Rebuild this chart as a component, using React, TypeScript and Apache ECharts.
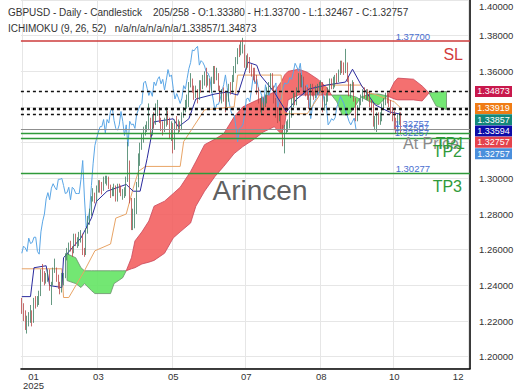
import React, { useEffect, useRef } from 'react';
import * as echarts from 'echarts';

const FONT = "'Liberation Sans', Arial, sans-serif";
const SLOTS = 258;

const opens = [
  1.2320, 1.2290, 1.2250, 1.2185, 1.2200, 1.2215, 1.2240, 1.2200, 1.2310, 1.2300,
  1.2310, 1.2345, 1.2480, 1.2455, 1.2440, 1.2450, 1.2450, 1.2390, 1.2410, 1.2480,
  1.2495, 1.2430, 1.2400, 1.2370, 1.2450, 1.2450, 1.2565, 1.2580, 1.2620, 1.2610,
  1.2590, 1.2665, 1.2635, 1.2640, 1.2670, 1.2670, 1.2590, 1.2575, 1.2700, 1.2760,
  1.2800, 1.2885, 1.2920, 1.2880, 1.2945, 1.2970, 1.2950, 1.2935, 1.2995, 1.2995,
  1.3000, 1.2960, 1.2915, 1.2920, 1.2950, 1.2880, 1.2950, 1.2940, 1.2915, 1.2915,
  1.2915, 1.2995, 1.3100, 1.2890, 1.2725, 1.2765, 1.2820, 1.2960, 1.3085, 1.3185,
  1.3225, 1.3260, 1.3290, 1.3290, 1.3330, 1.3255, 1.3330, 1.3310, 1.3380, 1.3395,
  1.3325, 1.3280, 1.3270, 1.3300, 1.3375, 1.3320, 1.3240, 1.3300, 1.3180, 1.3320,
  1.3300, 1.3305, 1.3280, 1.3360, 1.3385, 1.3410, 1.3420, 1.3535, 1.3545, 1.3505,
  1.3465, 1.3490, 1.3460, 1.3540, 1.3520, 1.3555, 1.3570, 1.3530, 1.3555, 1.3495,
  1.3550, 1.3610, 1.3570, 1.3580, 1.3505, 1.3445, 1.3475, 1.3450, 1.3420, 1.3450,
  1.3520, 1.3500, 1.3560, 1.3615, 1.3650, 1.3720, 1.3715, 1.3730, 1.3740, 1.3635,
  1.3660, 1.3650, 1.3630, 1.3595, 1.3590, 1.3565, 1.3495, 1.3440, 1.3380, 1.3415,
  1.3415, 1.3445, 1.3490, 1.3525, 1.3580, 1.3510, 1.3435, 1.3380, 1.3355, 1.3355,
  1.3290, 1.3205, 1.3280, 1.3285, 1.3300, 1.3355, 1.3445, 1.3450, 1.3430, 1.3500,
  1.3575, 1.3530, 1.3555, 1.3500, 1.3490, 1.3460, 1.3410, 1.3525, 1.3475, 1.3465,
  1.3500, 1.3505, 1.3510, 1.3535, 1.3395, 1.3440, 1.3445, 1.3505, 1.3535, 1.3530,
  1.3535, 1.3565, 1.3555, 1.3595, 1.3645, 1.3625, 1.3600, 1.3645, 1.3555, 1.3470,
  1.3510, 1.3525, 1.3445, 1.3335, 1.3400, 1.3430, 1.3445, 1.3490, 1.3465, 1.3480,
  1.3475, 1.3420, 1.3405, 1.3300, 1.3315, 1.3335, 1.3325, 1.3340, 1.3400, 1.3425,
  1.3460, 1.3440, 1.3420, 1.3380, 1.3350, 1.3320, 1.3300, 1.3320, 1.3338,
];

const closes = [
  1.2290, 1.2250, 1.2185, 1.2200, 1.2215, 1.2240, 1.2200, 1.2310, 1.2300, 1.2310,
  1.2345, 1.2480, 1.2455, 1.2440, 1.2450, 1.2450, 1.2390, 1.2410, 1.2480, 1.2495,
  1.2430, 1.2400, 1.2370, 1.2450, 1.2450, 1.2565, 1.2580, 1.2620, 1.2610, 1.2590,
  1.2665, 1.2635, 1.2640, 1.2670, 1.2670, 1.2590, 1.2575, 1.2700, 1.2760, 1.2800,
  1.2885, 1.2920, 1.2880, 1.2945, 1.2970, 1.2950, 1.2935, 1.2995, 1.2995, 1.3000,
  1.2960, 1.2915, 1.2920, 1.2950, 1.2880, 1.2950, 1.2940, 1.2915, 1.2915, 1.2915,
  1.2995, 1.3100, 1.2890, 1.2725, 1.2765, 1.2820, 1.2960, 1.3085, 1.3185, 1.3225,
  1.3260, 1.3290, 1.3290, 1.3330, 1.3255, 1.3330, 1.3310, 1.3380, 1.3395, 1.3325,
  1.3280, 1.3270, 1.3300, 1.3375, 1.3320, 1.3240, 1.3300, 1.3180, 1.3320, 1.3300,
  1.3305, 1.3280, 1.3360, 1.3385, 1.3410, 1.3420, 1.3535, 1.3545, 1.3505, 1.3465,
  1.3490, 1.3460, 1.3540, 1.3520, 1.3555, 1.3570, 1.3530, 1.3555, 1.3495, 1.3550,
  1.3610, 1.3570, 1.3580, 1.3505, 1.3445, 1.3475, 1.3450, 1.3420, 1.3450, 1.3520,
  1.3500, 1.3560, 1.3615, 1.3650, 1.3720, 1.3715, 1.3730, 1.3740, 1.3635, 1.3660,
  1.3650, 1.3630, 1.3595, 1.3590, 1.3565, 1.3495, 1.3440, 1.3380, 1.3415, 1.3415,
  1.3445, 1.3490, 1.3525, 1.3580, 1.3510, 1.3435, 1.3380, 1.3355, 1.3355, 1.3290,
  1.3205, 1.3280, 1.3285, 1.3300, 1.3355, 1.3445, 1.3450, 1.3430, 1.3500, 1.3575,
  1.3530, 1.3555, 1.3500, 1.3490, 1.3460, 1.3410, 1.3525, 1.3475, 1.3465, 1.3500,
  1.3505, 1.3510, 1.3535, 1.3395, 1.3440, 1.3445, 1.3505, 1.3535, 1.3530, 1.3535,
  1.3565, 1.3555, 1.3595, 1.3645, 1.3625, 1.3600, 1.3645, 1.3555, 1.3470, 1.3510,
  1.3525, 1.3445, 1.3335, 1.3400, 1.3430, 1.3445, 1.3490, 1.3465, 1.3480, 1.3475,
  1.3420, 1.3405, 1.3300, 1.3315, 1.3335, 1.3325, 1.3340, 1.3400, 1.3425, 1.3460,
  1.3440, 1.3420, 1.3380, 1.3350, 1.3320, 1.3300, 1.3320, 1.3338, 1.32757,
];

const highs = [
  1.2330, 1.2300, 1.2260, 1.2230, 1.2250, 1.2290, 1.2260, 1.2330, 1.2340, 1.2340,
  1.2370, 1.2490, 1.2520, 1.2480, 1.2470, 1.2490, 1.2490, 1.2420, 1.2500, 1.2550,
  1.2500, 1.2460, 1.2420, 1.2470, 1.2470, 1.2580, 1.2610, 1.2640, 1.2650, 1.2620,
  1.2690, 1.2690, 1.2670, 1.2700, 1.2710, 1.2690, 1.2610, 1.2720, 1.2790, 1.2830,
  1.2900, 1.2945, 1.2920, 1.2960, 1.2990, 1.2990, 1.2980, 1.3010, 1.3015, 1.3015,
  1.3010, 1.2965, 1.2950, 1.2970, 1.2960, 1.2970, 1.2970, 1.2960, 1.2940, 1.2950,
  1.3010, 1.3205, 1.3100, 1.2890, 1.2830, 1.2890, 1.2980, 1.3140, 1.3200, 1.3250,
  1.3290, 1.3300, 1.3320, 1.3420, 1.3340, 1.3360, 1.3370, 1.3420, 1.3440, 1.3400,
  1.3340, 1.3320, 1.3340, 1.3400, 1.3380, 1.3340, 1.3320, 1.3310, 1.3330, 1.3350,
  1.3330, 1.3320, 1.3370, 1.3400, 1.3440, 1.3470, 1.3540, 1.3590, 1.3560, 1.3520,
  1.3520, 1.3500, 1.3550, 1.3550, 1.3580, 1.3600, 1.3620, 1.3580, 1.3560, 1.3570,
  1.3630, 1.3630, 1.3620, 1.3590, 1.3520, 1.3500, 1.3510, 1.3480, 1.3480, 1.3530,
  1.3540, 1.3580, 1.3630, 1.3680, 1.3730, 1.3750, 1.3770, 1.3788, 1.3750, 1.3690,
  1.3700, 1.3680, 1.3640, 1.3620, 1.3620, 1.3580, 1.3510, 1.3450, 1.3460, 1.3450,
  1.3470, 1.3510, 1.3540, 1.3590, 1.3590, 1.3520, 1.3450, 1.3400, 1.3390, 1.3380,
  1.3300, 1.3300, 1.3320, 1.3330, 1.3380, 1.3450, 1.3480, 1.3480, 1.3510, 1.3590,
  1.3590, 1.3580, 1.3570, 1.3520, 1.3510, 1.3470, 1.3530, 1.3530, 1.3490, 1.3520,
  1.3530, 1.3540, 1.3550, 1.3540, 1.3460, 1.3480, 1.3510, 1.3560, 1.3560, 1.3570,
  1.3580, 1.3590, 1.3610, 1.3660, 1.3660, 1.3650, 1.3726, 1.3650, 1.3570, 1.3530,
  1.3550, 1.3540, 1.3450, 1.3410, 1.3450, 1.3470, 1.3500, 1.3510, 1.3500, 1.3500,
  1.3490, 1.3440, 1.3420, 1.3350, 1.3370, 1.3370, 1.3370, 1.3420, 1.3450, 1.3480,
  1.3490, 1.3470, 1.3440, 1.3400, 1.3380, 1.3340, 1.3360, 1.3370, 1.3370,
];

const lows = [
  1.2240, 1.2200, 1.2150, 1.2130, 1.2170, 1.2190, 1.2170, 1.2190, 1.2270, 1.2280,
  1.2290, 1.2340, 1.2420, 1.2400, 1.2410, 1.2420, 1.2370, 1.2290, 1.2400, 1.2470,
  1.2420, 1.2380, 1.2350, 1.2360, 1.2400, 1.2440, 1.2540, 1.2570, 1.2590, 1.2560,
  1.2580, 1.2620, 1.2610, 1.2620, 1.2640, 1.2570, 1.2560, 1.2570, 1.2690, 1.2740,
  1.2790, 1.2870, 1.2860, 1.2870, 1.2920, 1.2920, 1.2910, 1.2930, 1.2970, 1.2960,
  1.2940, 1.2890, 1.2900, 1.2900, 1.2870, 1.2870, 1.2920, 1.2900, 1.2880, 1.2890,
  1.2900, 1.2980, 1.2860, 1.2710, 1.2710, 1.2720, 1.2800, 1.2950, 1.3070, 1.3160,
  1.3200, 1.3240, 1.3260, 1.3270, 1.3230, 1.3240, 1.3280, 1.3300, 1.3350, 1.3310,
  1.3265, 1.3240, 1.3260, 1.3290, 1.3300, 1.3220, 1.3210, 1.3140, 1.3160, 1.3270,
  1.3250, 1.3260, 1.3270, 1.3340, 1.3370, 1.3390, 1.3400, 1.3510, 1.3480, 1.3440,
  1.3450, 1.3420, 1.3440, 1.3480, 1.3500, 1.3520, 1.3510, 1.3520, 1.3480, 1.3480,
  1.3530, 1.3530, 1.3550, 1.3490, 1.3430, 1.3420, 1.3430, 1.3370, 1.3400, 1.3430,
  1.3470, 1.3480, 1.3540, 1.3590, 1.3640, 1.3680, 1.3690, 1.3700, 1.3620, 1.3610,
  1.3620, 1.3590, 1.3570, 1.3550, 1.3540, 1.3470, 1.3420, 1.3370, 1.3360, 1.3380,
  1.3400, 1.3420, 1.3470, 1.3500, 1.3490, 1.3420, 1.3340, 1.3310, 1.3320, 1.3270,
  1.3180, 1.3140, 1.3250, 1.3260, 1.3280, 1.3340, 1.3400, 1.3410, 1.3410, 1.3480,
  1.3510, 1.3510, 1.3480, 1.3460, 1.3440, 1.3390, 1.3400, 1.3460, 1.3440, 1.3450,
  1.3470, 1.3480, 1.3490, 1.3370, 1.3380, 1.3410, 1.3430, 1.3490, 1.3500, 1.3500,
  1.3510, 1.3530, 1.3540, 1.3580, 1.3590, 1.3580, 1.3590, 1.3540, 1.3460, 1.3450,
  1.3490, 1.3430, 1.3320, 1.3320, 1.3380, 1.3410, 1.3430, 1.3450, 1.3440, 1.3440,
  1.3400, 1.3370, 1.3290, 1.3270, 1.3260, 1.3300, 1.3300, 1.3320, 1.3390, 1.3410,
  1.3420, 1.3400, 1.3360, 1.3320, 1.3270, 1.3250, 1.3280, 1.3300, 1.32467,
];

// Ichimoku lines as [slot, price] vertices
const tenkan = [
  [0, 1.2337], [5, 1.2337], [7, 1.2499], [14, 1.2510], [16, 1.2399], [23, 1.2388],
  [24, 1.2555], [34, 1.2666], [40, 1.2777], [43, 1.2872], [49, 1.2928], [60, 1.2966],
  [64, 1.2928], [68, 1.2928], [72, 1.3111], [76, 1.3317], [87, 1.3334], [90, 1.3289],
  [96, 1.3334], [100, 1.3445], [111, 1.3473], [118, 1.3484], [124, 1.3467], [130, 1.3651],
  [135, 1.3634], [137, 1.3579], [145, 1.3484], [152, 1.3373], [158, 1.3445], [165, 1.3501],
  [175, 1.3523], [186, 1.3540], [190, 1.3612], [195, 1.3523], [203, 1.3412], [211, 1.3373],
  [218, 1.33594],
];

const kijun = [
  [0, 1.2493], [23, 1.2493], [24, 1.2332], [27, 1.2332], [36, 1.2482], [42, 1.2594],
  [51, 1.2632], [54, 1.2777], [60, 1.2800], [64, 1.2944], [67, 1.3039], [71, 1.3067],
  [91, 1.3067], [93, 1.3206], [105, 1.3384], [122, 1.3401], [124, 1.3579], [149, 1.3579],
  [150, 1.3362], [164, 1.3362], [175, 1.3523], [195, 1.3523], [198, 1.3484], [204, 1.3467],
  [214, 1.3429], [218, 1.33919],
];

const CHIKOU_SHIFT = 26;

// cloud pieces: [slot, upper edge, lower edge]
const cloudGreen1 = [
  [26, 1.2577, 1.2427], [31, 1.2555, 1.2410], [34, 1.2499, 1.2388], [36, 1.2482, 1.2410],
  [40, 1.2482, 1.2371], [42, 1.2482, 1.2354], [51, 1.2482, 1.2354], [53, 1.2482, 1.2410],
  [58, 1.2482, 1.2443], [60, 1.2482, 1.2482],
];
const cloudRed1 = [
  [60, 1.2482, 1.2482], [63, 1.2555, 1.2493], [65, 1.2649, 1.2499], [69, 1.2700, 1.2520],
  [73, 1.2761, 1.2530], [76, 1.2844, 1.2540], [82, 1.2872, 1.2580], [87, 1.2915, 1.2666],
  [91, 1.2950, 1.2700], [97, 1.3039, 1.2750], [100, 1.3094, 1.2844], [105, 1.3189, 1.2928],
  [111, 1.3220, 1.3011], [116, 1.3250, 1.3067], [122, 1.3345, 1.3139], [127, 1.3401, 1.3178],
  [133, 1.3429, 1.3217], [139, 1.3456, 1.3261], [145, 1.3484, 1.3289], [149, 1.3540, 1.3250],
  [151, 1.3580, 1.3300], [153, 1.3600, 1.3440], [159, 1.3612, 1.3467], [164, 1.3595, 1.3467],
  [170, 1.3556, 1.3467], [175, 1.3512, 1.3467], [178, 1.3467, 1.3467],
];
const cloudGreen2 = [
  [178, 1.3467, 1.3467], [181, 1.3467, 1.3429], [184, 1.3467, 1.3356], [188, 1.3467, 1.3356],
  [192, 1.3456, 1.3412], [194, 1.3445, 1.3445],
];
const cloudGreen3 = [
  [195, 1.3456, 1.3456], [200, 1.3473, 1.3429], [205, 1.3473, 1.3412], [210, 1.3462, 1.3462],
];
const cloudRed2 = [
  [210, 1.3462, 1.3462], [214, 1.3540, 1.3445], [216, 1.3562, 1.3440], [225, 1.3556, 1.3440],
  [230, 1.3518, 1.3434], [234, 1.3479, 1.3479],
];
const cloudGreen4 = [
  [234, 1.3479, 1.3479], [238, 1.3484, 1.3406], [244, 1.34873, 1.33857],
];

const xTickIdx = [1, 44, 87, 129, 172, 214, 257];
const xTickLabels = ['01\n2025', '03', '05', '07', '08', '10', '12'];

const slLevel = 1.377;
const atPriceLevel = 1.32757;
const tp1Level = 1.32507;
const tp2Level = 1.32257;
const tp3Level = 1.30277;
const dashedLevels = [1.34873, 1.33919, 1.33857, 1.33594];
const tagValues = [1.34873, 1.33919, 1.33857, 1.33594, 1.32757, 1.32757];
const tagColors = ['#c8184c', '#f07c14', '#13887a', '#0c0ca8', '#e4424c', '#4a8fdc'];
// axis labels that sit under the price tags in the reference
const hiddenAxisValues = [1.32, 1.34];

const RED_FILL = 'rgba(242,92,92,0.88)';
const GREEN_FILL = 'rgba(100,228,100,0.9)';
const cloudSegments = [
  { pts: cloudGreen1, fill: GREEN_FILL, stroke: '#6a8f6a' },
  { pts: cloudRed1, fill: RED_FILL, stroke: '#c9485a' },
  { pts: cloudGreen2, fill: GREEN_FILL, stroke: '#6a8f6a' },
  { pts: cloudGreen3, fill: GREEN_FILL, stroke: '#6a8f6a' },
  { pts: cloudRed2, fill: RED_FILL, stroke: '#c9485a' },
  { pts: cloudGreen4, fill: GREEN_FILL, stroke: '#6a8f6a' },
];

const isTick = (idx: number) => xTickIdx.indexOf(idx) >= 0;
const HIDDEN_LINE = { color: 'rgba(0,0,0,0)', width: 0 };

export default function App() {
  const ref = useRef<HTMLDivElement>(null);
  useEffect(() => {
    document.body.style.margin = '0';
    const chart = echarts.init(ref.current!, null, { renderer: 'svg' });
    const candleData = closes.map((c, i) => [opens[i], c, lows[i], highs[i]]);
    const chikou = closes.slice(CHIKOU_SHIFT).map((v, i) => [i, v]);
    const small = { fontSize: 9.5, color: '#4a6fd0', fontFamily: FONT };
    const big = { fontSize: 16, fontFamily: FONT };
    const markData: any[] = [
      { yAxis: slLevel, lineStyle: { color: '#cc3b3b', width: 1.5, type: 'solid' },
        label: { show: true, position: 'insideEndTop', formatter: slLevel.toFixed(5), ...small, distance: 0, padding: [0, 40, 0, 0] } },
      { yAxis: slLevel, lineStyle: HIDDEN_LINE,
        label: { show: true, position: 'insideEndBottom', formatter: 'SL', color: '#d23c3c', ...big, distance: 5, padding: [0, 2, 0, 0] } },
      { yAxis: tp3Level, lineStyle: { color: '#2f9a3a', width: 1.3, type: 'solid' },
        label: { show: true, position: 'insideEndTop', formatter: tp3Level.toFixed(5), ...small, distance: 0, padding: [0, 40, 0, 0] } },
      { yAxis: tp3Level, lineStyle: HIDDEN_LINE,
        label: { show: true, position: 'insideEndBottom', formatter: 'TP3', color: '#2f9a3a', ...big, distance: 5, padding: [0, 3, 0, 0] } },
      { yAxis: atPriceLevel, lineStyle: { color: '#8f8f8f', width: 1.2, type: 'solid' },
        label: { show: true, position: 'insideEndTop', formatter: atPriceLevel.toFixed(5), ...small, distance: 1, padding: [0, 40, 0, 0] } },
      { yAxis: atPriceLevel, lineStyle: HIDDEN_LINE,
        label: { show: true, position: 'insideEndBottom', formatter: 'At Price', color: '#8a8a8a', ...big, distance: 6, padding: [0, 5, 0, 0] } },
      { yAxis: tp1Level, lineStyle: { color: '#2f9a3a', width: 1.3, type: 'solid' },
        label: { show: true, position: 'insideEndTop', formatter: tp1Level.toFixed(5), ...small, distance: 1, padding: [0, 40, 0, 0] } },
      { yAxis: tp1Level, lineStyle: HIDDEN_LINE,
        label: { show: true, position: 'insideEndBottom', formatter: 'TP1', color: '#2f9a3a', ...big, distance: 2, padding: [0, 3, 0, 0] } },
      { yAxis: tp2Level, lineStyle: { color: '#2f9a3a', width: 1.3, type: 'solid' },
        label: { show: true, position: 'insideEndTop', formatter: tp2Level.toFixed(5), ...small, distance: 1, padding: [0, 40, 0, 0] } },
      { yAxis: tp2Level, lineStyle: HIDDEN_LINE,
        label: { show: true, position: 'insideEndBottom', formatter: 'TP2', color: '#2f9a3a', ...big, distance: 5, padding: [0, 3, 0, 0] } },
      ...dashedLevels.map((v) => ({ yAxis: v, lineStyle: { color: '#111', width: 1.3, type: [3, 3] }, label: { show: false } })),
    ];

    const watermark = {
      type: 'text', left: 'center', top: 176, z: 50, silent: true,
      style: { text: 'Arincen', fontSize: 28, fill: 'rgba(75,75,75,0.9)', fontFamily: FONT },
    };

    const option: any = {
      animation: false,
      textStyle: { fontFamily: FONT },
      title: [
        { text: 'GBPUSD - Daily - Candlestick\u00a0\u00a0\u00a0\u00a0205/258 - O:1.33380 - H:1.33700 - L:1.32467 - C:1.32757',
          left: 8, top: 7, padding: 0, textStyle: { fontSize: 10, fontWeight: 'normal', color: '#333', fontFamily: FONT } },
        { text: 'ICHIMOKU (9, 26, 52)\u00a0\u00a0\u00a0n/a/n/a/n/a/n/a/1.33857/1.34873',
          left: 8, top: 23, padding: 0, textStyle: { fontSize: 10, fontWeight: 'normal', color: '#333', fontFamily: FONT } },
      ],
      grid: { left: 0, right: 50, top: -2.6, bottom: 21.5, containLabel: false },
      xAxis: {
        type: 'category',
        data: Array.from({ length: SLOTS }, (_, i) => String(i)),
        boundaryGap: true,
        axisLine: { show: true, onZero: false, lineStyle: { color: '#000', width: 1.5 } },
        axisTick: { show: false },
        axisLabel: {
          interval: (idx: number) => isTick(idx),
          fontSize: 9.5, color: '#333', margin: 3, lineHeight: 9,
          formatter: (_v: string, idx: number) => {
            const k = xTickIdx.indexOf(idx);
            if (k < 0) return '';
            const t = xTickLabels[k];
            if (k === 0) return t.split('\n').map((s) => `{l|${s}}`).join('\n');
            if (k === xTickIdx.length - 1) return `{r|${t}}`;
            return t;
          },
          rich: {
            l: { padding: [0, 0, 0, 20], fontSize: 9.5, color: '#333', lineHeight: 9 },
            r: { padding: [0, 22, 0, 0], fontSize: 9.5, color: '#333', lineHeight: 9 },
          },
        },
        splitLine: { show: true, interval: (idx: number) => isTick(idx), lineStyle: { color: '#e6e6e6' } },
      },
      yAxis: {
        type: 'value', position: 'right', min: 1.1934, max: 1.40, splitNumber: 10,
        axisLine: { show: true, lineStyle: { color: '#000', width: 1.5 } },
        axisTick: { show: false },
        axisLabel: {
          showMinLabel: false, fontSize: 9.5, color: '#333', margin: 9,
          formatter: (v: number) => {
            if (Math.abs(v - 1.4) < 1e-9) return '{t|1.40000}';
            if (hiddenAxisValues.some((h) => Math.abs(h - v) < 1e-9)) return '';
            return v.toFixed(5);
          },
          rich: { t: { padding: [12, 0, 0, 0], fontSize: 9.5, color: '#333' } },
        },
        splitLine: { show: true, lineStyle: { color: '#e6e6e6' } },
      },
      series: [
        {
          type: 'custom', name: 'cloud', z: 1, clip: true,
          data: cloudSegments.map((s) => [s.pts[0][0], s.pts[0][1]]),
          renderItem: (params: any, api: any) => {
            const seg = cloudSegments[params.dataIndex];
            const top = seg.pts.map((p) => api.coord([p[0], p[1]]));
            const bot = seg.pts.slice().reverse().map((p) => api.coord([p[0], p[2]]));
            return { type: 'polygon', shape: { points: top.concat(bot) }, style: { fill: seg.fill, stroke: seg.stroke, lineWidth: 0.8 } };
          },
        },
        { type: 'line', name: 'chikou', z: 2, data: chikou, showSymbol: false, lineStyle: { color: '#5aa6e6', width: 1 } },
        { type: 'line', name: 'kijun', z: 2, data: kijun, showSymbol: false, lineStyle: { color: '#e8a466', width: 1 } },
        { type: 'line', name: 'tenkan', z: 2, data: tenkan, showSymbol: false, lineStyle: { color: '#2b2b9e', width: 1 } },
        {
          type: 'candlestick', name: 'GBPUSD', z: 3, data: candleData, barWidth: 1.3,
          itemStyle: { color: '#1f9d6b', color0: '#e5433f', borderColor: '#3f7f62', borderColor0: '#b84848', borderWidth: 0.8 },
          markLine: { symbol: ['none', 'none'], silent: true, animation: false, precision: 5, data: markData },
        },
      ],
      graphic: [watermark],
    };
    chart.setOption(option);

    // right-side price tags, stacked so that they do not overlap
    const order = tagValues.map((v, i) => i).sort((a, b) => tagValues[b] - tagValues[a]);
    let prev = -Infinity;
    const tags: any[] = [];
    order.forEach((i) => {
      const yTrue = chart.convertToPixel({ yAxisIndex: 0 }, tagValues[i]) as number;
      const y = Math.max(yTrue, prev + 11.3);
      prev = y;
      tags.push({
        type: 'group', z: 60,
        children: [
          { type: 'rect', shape: { x: 475, y: y - 5.5, width: 37, height: 11 }, style: { fill: tagColors[i] } },
          { type: 'text', style: { text: tagValues[i].toFixed(5), x: 493.5, y, fill: '#fff', fontSize: 9, fontFamily: FONT, align: 'center', verticalAlign: 'middle' } },
        ],
      });
    });
    chart.setOption({ graphic: [watermark, ...tags] });

    return () => chart.dispose();
  }, []);
  return <div ref={ref} style={{ width: 520, height: 390 }} />;
}
